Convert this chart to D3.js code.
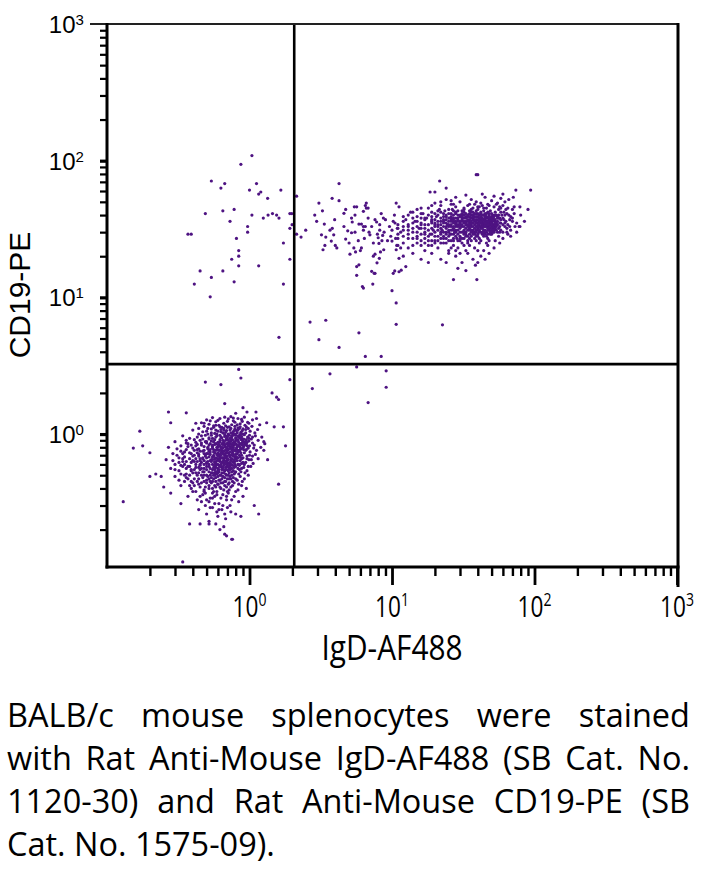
<!DOCTYPE html>
<html><head><meta charset="utf-8">
<script src="https://cdn.jsdelivr.net/npm/d3@7"></script>
<style>body{margin:0;background:#fff}svg{display:block}</style>
</head><body>
<svg id="c" width="703" height="869"></svg>
<script>
// ---------- data ----------
const xDomain = [0.1, 1000];
const yDomain = [0.1065, 1000];
const majorExponents = [0, 1, 2, 3];
const gateX = 2.06;
const gateY = 3.25;
const xTitle = "IgD-AF488";
const yTitle = "CD19-PE";
const captionLines = [
  "BALB/c mouse splenocytes were stained",
  "with Rat Anti-Mouse IgD-AF488 (SB Cat. No.",
  "1120-30) and Rat Anti-Mouse CD19-PE (SB",
  "Cat. No. 1575-09)."
];

// IgD- CD19- population (lower left)
const lowerLeftCells = [
[0.55,1.32],[0.62,1.3],[0.67,1.33],[0.71,1.29],[0.77,1.31],[0.83,1.3],[0.88,1.28],[0.5,1.27],[0.74,1.34],[0.92,1.33],[0.6,1.26],[0.97,1.22],[0.8,1.42],[0.36,1.43],[0.42,1.2],[1.05,1.27],[1.12,1.3],
[0.46,1.21],[0.52,1.18],[0.58,1.23],[0.61,1.16],[0.66,1.2],[0.7,1.24],[0.75,1.17],[0.79,1.22],[0.86,1.19],[0.93,1.16],[0.99,1.2],[1.04,1.14],[0.64,1.12],[0.72,1.13],[0.83,1.11],[0.56,1.12],[0.89,1.24],[0.48,1.14],[1.18,1.17],[0.77,1.25],
[0.4,1.07],[0.47,1.04],[0.54,1.09],[0.6,1.05],[0.63,1.08],[0.68,1.03],[0.73,1.07],[0.76,1.01],[0.81,1.06],[0.87,1.03],[0.94,1.08],[1.01,1.05],[1.09,1.02],[0.57,1.01],[0.79,1.09],[0.85,1.1],[0.66,1.1],[0.71,1.0],[0.9,1.0],[0.51,1.0],[0.98,1.1],[1.14,1.08],[0.44,1.1],
[0.34,0.97],[0.43,0.95],[0.49,0.98],[0.55,0.93],[0.59,0.97],[0.64,0.94],[0.67,0.99],[0.7,0.95],[0.74,0.92],[0.77,0.98],[0.8,0.94],[0.84,0.97],[0.88,0.93],[0.92,0.99],[0.97,0.95],[1.03,0.92],[1.1,0.97],[0.62,0.91],[0.72,0.98],[0.82,0.91],[0.52,0.92],[0.86,0.99],[0.95,0.91],[1.22,0.95],[0.38,0.93],
[0.3,0.88],[0.37,0.85],[0.45,0.9],[0.5,0.86],[0.54,0.89],[0.58,0.85],[0.62,0.88],[0.65,0.84],[0.68,0.9],[0.71,0.86],[0.74,0.89],[0.76,0.84],[0.79,0.87],[0.83,0.9],[0.86,0.85],[0.9,0.88],[0.94,0.84],[0.99,0.89],[1.05,0.86],[1.15,0.9],[0.57,0.91],[0.66,0.87],[0.73,0.85],[0.81,0.84],[0.88,0.91],[0.6,0.83],[0.42,0.87],[0.96,0.87],[0.7,0.91],[1.28,0.85],
[0.27,0.8],[0.33,0.82],[0.4,0.79],[0.46,0.83],[0.51,0.78],[0.55,0.81],[0.59,0.77],[0.62,0.82],[0.65,0.79],[0.67,0.83],[0.7,0.78],[0.73,0.81],[0.75,0.77],[0.78,0.83],[0.81,0.79],[0.84,0.82],[0.87,0.78],[0.91,0.81],[0.95,0.77],[1.0,0.82],[1.07,0.79],[1.2,0.8],[0.57,0.84],[0.64,0.76],[0.69,0.8],[0.77,0.8],[0.83,0.76],[0.89,0.83],[0.48,0.76],[0.72,0.84],[0.6,0.8],[0.98,0.79],[0.36,0.77],
[0.29,0.72],[0.35,0.74],[0.41,0.7],[0.45,0.75],[0.49,0.71],[0.53,0.74],[0.56,0.69],[0.6,0.73],[0.63,0.7],[0.66,0.75],[0.68,0.69],[0.71,0.73],[0.74,0.7],[0.76,0.74],[0.79,0.68],[0.82,0.72],[0.85,0.75],[0.88,0.7],[0.92,0.73],[0.96,0.69],[1.01,0.74],[1.1,0.71],[0.58,0.76],[0.65,0.72],[0.7,0.76],[0.73,0.68],[0.8,0.75],[0.86,0.68],[0.52,0.68],[0.62,0.67],[0.77,0.71],[0.94,0.76],[0.43,0.73],[1.05,0.69],
[0.26,0.65],[0.32,0.62],[0.38,0.66],[0.43,0.63],[0.47,0.67],[0.5,0.61],[0.54,0.65],[0.57,0.62],[0.6,0.66],[0.63,0.6],[0.66,0.64],[0.68,0.67],[0.71,0.61],[0.74,0.65],[0.77,0.62],[0.8,0.66],[0.83,0.6],[0.86,0.64],[0.9,0.67],[0.94,0.62],[0.99,0.65],[1.06,0.61],[0.55,0.68],[0.62,0.63],[0.69,0.64],[0.73,0.6],[0.79,0.63],[0.45,0.6],[0.58,0.6],[0.88,0.61],[0.65,0.67],[0.35,0.6],[1.15,0.66],
[0.28,0.56],[0.34,0.58],[0.39,0.54],[0.44,0.57],[0.48,0.53],[0.52,0.58],[0.55,0.55],[0.58,0.59],[0.61,0.53],[0.64,0.57],[0.67,0.54],[0.7,0.58],[0.73,0.55],[0.76,0.59],[0.79,0.52],[0.83,0.56],[0.87,0.53],[0.91,0.57],[0.96,0.54],[1.02,0.58],[0.5,0.55],[0.6,0.56],[0.66,0.59],[0.72,0.52],[0.8,0.58],[0.42,0.52],[0.57,0.52],[0.85,0.59],
[0.3,0.49],[0.36,0.51],[0.41,0.47],[0.46,0.5],[0.5,0.46],[0.53,0.5],[0.56,0.47],[0.59,0.51],[0.62,0.46],[0.65,0.49],[0.68,0.45],[0.71,0.5],[0.74,0.47],[0.78,0.51],[0.82,0.46],[0.86,0.49],[0.92,0.47],[0.55,0.52],[0.64,0.52],[0.7,0.47],[0.48,0.45],[0.76,0.45],[0.39,0.45],[0.98,0.5],
[0.33,0.42],[0.39,0.4],[0.44,0.43],[0.48,0.39],[0.52,0.42],[0.56,0.38],[0.6,0.43],[0.63,0.4],[0.67,0.42],[0.7,0.38],[0.74,0.41],[0.78,0.44],[0.83,0.39],[0.88,0.42],[0.58,0.45],[0.65,0.44],[0.5,0.44],[0.72,0.44],[0.95,0.4],[0.42,0.38],
[0.37,0.35],[0.43,0.33],[0.47,0.36],[0.52,0.32],[0.57,0.35],[0.61,0.31],[0.65,0.36],[0.69,0.33],[0.73,0.3],[0.78,0.35],[0.84,0.32],[0.55,0.37],[0.63,0.34],[0.71,0.37],[0.49,0.3],[0.9,0.35],[0.46,0.32],
[0.44,0.28],[0.5,0.26],[0.55,0.29],[0.6,0.25],[0.64,0.28],[0.68,0.24],[0.74,0.27],[0.58,0.22],[0.7,0.29],[0.8,0.26],[0.52,0.23],
[0.62,0.2],[0.69,0.18],[0.76,0.17],[0.66,0.21],
[0.69,0.93],[0.75,0.95],[0.81,0.9],[0.85,0.94],[0.78,0.88],[0.72,0.87],[0.66,0.86],[0.84,0.87],[0.8,0.98],[0.7,0.97],[0.88,0.96],[0.76,0.91],[0.73,0.93],[0.63,0.95],[0.67,0.81],[0.71,0.83],[0.75,0.82],[0.79,0.85],[0.82,0.81],[0.86,0.8],[0.89,0.86],[0.64,0.85],[0.6,0.87],[0.77,0.78],[0.74,0.79],[0.68,0.77],[0.83,0.74],[0.8,0.71],[0.76,0.72],[0.72,0.71],[0.69,0.74],[0.64,0.74],[0.61,0.71],[0.67,0.7],[0.78,0.76],[0.86,0.77],[0.9,0.79],[0.92,0.84],[0.85,0.7],[0.81,0.68],[0.75,0.66],[0.71,0.65],[0.66,0.66],[0.62,0.69],[0.59,0.64],[0.64,0.62],[0.7,0.62],[0.76,0.63],[0.82,0.64],[0.88,0.66],[0.73,0.58],[0.68,0.57],[0.63,0.58],[0.58,0.57],[0.78,0.57],[0.84,0.6],[0.66,0.52],[0.61,0.55],[0.71,0.54],[0.75,0.53],[0.69,0.6],[0.57,0.63],[0.53,0.71],[0.56,0.77],[0.59,0.8],[0.61,0.76],[0.55,0.83],[0.63,0.79],[0.93,0.88],[0.96,0.82],[0.91,0.92],[0.87,1.0],[0.82,1.02],[0.77,1.04],[0.74,1.1],[0.69,1.06],[0.65,1.02],[0.62,0.98],[0.58,0.95],[0.83,1.07],[0.89,1.06],[0.79,1.14],[0.68,1.15],[0.94,1.02],[0.53,0.85],[0.51,0.8],[0.5,0.72],[0.48,0.64],[0.52,0.6],[0.54,0.52],[0.6,0.49],[0.67,0.48],[0.73,0.49],[0.63,0.44],[0.57,0.42],[0.69,0.41],[0.8,0.53],[0.77,0.48],[0.85,0.55],[0.9,0.62],
[0.36,0.9],[0.39,0.83],[0.41,0.76],[0.44,0.69],[0.46,0.62],[0.38,0.58],[0.41,0.55],[0.44,0.52],[0.47,0.48],[0.4,0.44],[0.45,0.41],[0.49,0.37],[0.53,0.34],[0.57,0.31],[0.61,0.28],[0.65,0.3],[0.69,0.35],[0.72,0.39],[0.76,0.42],[0.8,0.47],[0.84,0.51],[0.88,0.56],[0.92,0.6],[0.96,0.66],[1.0,0.7],[0.55,0.4],[0.59,0.38],[0.62,0.41],[0.66,0.39],[0.52,0.47],[0.56,0.5],[0.6,0.52],[0.64,0.55],[0.68,0.51],[0.72,0.56],[0.48,0.56],[0.51,0.63],[0.55,0.6],[0.58,0.67],[0.62,0.65],[0.66,0.61],[0.7,0.69],[0.45,0.66],[0.49,0.69],[0.53,0.77],[0.57,0.73],[0.61,0.84],[0.65,0.9],[0.69,0.85],[0.56,0.88],[0.52,0.94],[0.48,0.81],[0.44,0.78],[0.47,0.92],[0.5,1.05],[0.54,1.02],[0.58,1.07],[0.62,1.13],[0.66,1.07],[0.7,1.12],[0.74,1.02],[0.78,1.06],[0.82,1.17],[0.86,1.13],[0.9,1.09],[0.95,1.13],[1.0,0.98],[1.05,0.95],[1.08,0.83],[1.12,0.76],[1.03,0.65],[0.98,0.58],[0.93,0.52],[0.89,0.45],[0.84,0.43],[0.8,0.38],[0.75,0.33],[0.67,0.26],[0.59,0.27],[0.53,0.29],[0.34,0.66],[0.31,0.7],[0.32,0.54],[0.35,0.5],[0.37,0.47],[0.42,0.6],[0.4,0.64],[0.46,0.56],[0.5,0.5],[0.54,0.44],[0.58,0.48],[0.63,0.5],[0.67,0.45],[0.71,0.43],[0.75,0.5],[0.79,0.6],[0.83,0.67],[0.87,0.73],[0.91,0.77],[0.95,0.85],[0.99,0.93],[0.6,0.6],[0.64,0.67],[0.68,0.72],[0.72,0.78],[0.76,0.86],[0.8,0.92],[0.56,0.7],[0.52,0.75],[0.48,0.72],[0.57,0.55],[0.61,0.59],[0.65,0.57],[0.69,0.55],[0.73,0.62],[0.77,0.69],[0.81,0.77],[0.85,0.83],[0.89,0.9],[0.5,0.88],[0.54,0.98],[0.59,1.0],[0.63,1.04],[0.67,0.96],[0.71,0.9],[0.75,0.97],[0.79,1.0],[0.83,0.96],[0.87,0.92],[0.43,0.84],[0.39,0.72],[0.36,0.63],[0.33,0.75],
[0.3,0.6],[0.32,0.67],[0.33,0.51],[0.34,0.72],[0.35,0.45],[0.36,0.56],[0.37,0.81],[0.38,0.5],[0.39,0.62],[0.4,0.69],[0.41,0.42],[0.42,0.57],[0.43,0.77],[0.44,0.47],[0.45,0.64],[0.46,0.86],[0.47,0.53],[0.48,0.6],[0.49,0.41],[0.5,0.67],[0.51,0.49],[0.52,0.83],[0.53,0.56],[0.54,0.63],[0.55,0.45],[0.56,0.74],[0.57,0.5],[0.58,0.62],[0.59,0.36],[0.6,0.69],[0.61,0.46],[0.62,0.58],
[0.31,0.78],[0.33,0.59],[0.35,0.68],[0.36,0.48],[0.38,0.73],[0.39,0.55],[0.4,0.38],[0.41,0.63],[0.42,0.82],[0.43,0.5],[0.44,0.71],[0.45,0.55],[0.46,0.44],[0.47,0.75],[0.48,0.5],[0.49,0.88],[0.5,0.58],[0.51,0.72],[0.52,0.4],[0.53,0.64],[0.54,0.48],[0.55,0.79],[0.56,0.57],[0.57,0.66],[0.58,0.41],[0.59,0.71],[0.6,0.54],[0.61,0.64],[0.62,0.5],
[0.29,0.64],[0.3,0.55],[0.32,0.46],[0.34,0.63],[0.37,0.58],[0.38,0.42],[0.4,0.52],[0.42,0.66],[0.43,0.45],[0.45,0.59],[0.47,0.66],[0.48,0.38],[0.5,0.62],[0.52,0.53],[0.53,0.45],[0.55,0.65],[0.57,0.59],[0.58,0.53],[0.6,0.43],[0.45,0.35],[0.5,0.33],[0.55,0.34],[0.41,0.91],[0.46,0.97],[0.51,1.1],[0.56,1.15],[0.36,0.86],[0.44,1.0],[0.48,1.2],[0.53,1.25],[0.58,1.16],
[0.63,0.73],[0.64,0.47],[0.65,0.63],[0.66,0.55],[0.67,0.68],[0.68,0.62],[0.69,0.5],[0.7,0.66],[0.71,0.58],[0.72,0.47],[0.74,0.6],[0.75,0.56],[0.77,0.54],[0.78,0.65],[0.62,0.76],[0.64,0.8],[0.66,0.72],[0.7,0.81],[0.73,0.74]
];

// IgD+ CD19+ population (upper right)
const upperRightCells = [
[30,50],[36,52],[42,49],[45,54],[27,48],[50,51],[55,49],[33,56],[39,50],[24,52],[47,48],[58,53],[62,50],[20,49],[43,57],[52,55],[35,48],[28,54],[60,57],[66,52],
[18,45],[22,47],[25,44],[28,46],[31,43],[34,47],[37,45],[40,44],[43,47],[46,45],[49,43],[52,46],[56,44],[60,47],[65,45],[15,44],[26,48],[32,45],[38,48],[44,43],[48,47],[54,48],[70,44],[35,43],[41,46],[29,43],[57,46],[21,43],
[13,40],[16,41],[19,39],[22,42],[24,40],[26,38],[28,41],[30,39],[32,42],[34,40],[36,38],[38,41],[40,39],[42,42],[44,40],[46,38],[48,41],[50,39],[53,42],[56,40],[60,38],[64,41],[68,39],[27,43],[31,40],[35,41],[39,43],[43,38],[47,42],[51,40],[55,38],[33,39],[37,42],[41,40],[45,41],[49,38],[29,38],[23,39],[58,42],[62,40],[72,41],[20,41],[17,38],
[12,36],[14,35],[17,37],[20,34],[22,36],[24,35],[26,37],[28,34],[30,36],[32,35],[34,37],[36,34],[38,36],[40,35],[42,37],[44,34],[46,36],[48,35],[50,37],[52,34],[55,36],[58,35],[61,37],[65,34],[70,36],[75,35],[25,34],[29,37],[33,34],[37,38],[41,34],[45,37],[49,34],[53,37],[57,38],[31,38],[35,35],[39,37],[43,36],[47,38],[27,36],[23,37],[19,36],[16,34],[62,35],[67,37],[54,35],[51,36],
[11,32],[13,31],[15,33],[17,30],[19,32],[21,31],[23,33],[25,30],[27,32],[29,31],[31,33],[33,30],[35,32],[37,31],[39,33],[41,30],[43,32],[45,31],[47,33],[49,30],[51,32],[54,31],[57,33],[60,30],[64,32],[68,31],[73,33],[26,34],[30,30],[34,33],[38,30],[42,33],[46,30],[50,33],[24,32],[28,33],[32,31],[36,33],[40,32],[44,33],[48,31],[52,30],[56,32],[20,33],[18,31],[22,30],[14,32],[62,33],
[12,28],[14,27],[16,29],[18,26],[20,28],[22,27],[24,29],[26,26],[28,28],[30,27],[32,29],[34,26],[36,28],[38,27],[40,29],[42,26],[44,28],[47,27],[50,29],[53,26],[56,28],[60,27],[65,29],[25,28],[29,26],[33,28],[37,29],[41,27],[45,29],[19,29],[21,26],[23,28],[27,29],[31,27],[35,29],[39,26],[43,30],[48,26],[15,30],[17,27],[13,29],
[11,24],[13,23],[15,25],[17,22],[19,24],[21,23],[23,25],[25,22],[27,24],[29,23],[31,25],[33,22],[35,24],[38,23],[41,25],[44,22],[47,24],[52,23],[57,25],[20,26],[24,25],[28,22],[32,24],[36,26],[40,22],[46,25],[16,24],[26,23],[30,26],[34,25],
[12,20],[14,21],[16,19],[19,21],[22,19],[25,21],[28,20],[31,18],[34,21],[37,19],[42,20],[48,21],[18,18],[24,18],[30,21],[40,18],[45,19],
[26,31],[27,35],[28,38],[29,33],[30,35],[31,37],[32,33],[33,36],[34,39],[35,31],[36,35],[37,33],[38,39],[39,35],[40,37],[41,33],[42,39],[43,35],[44,37],[45,33],[46,39],[47,35],[48,37],[49,32],[50,35],[51,38],[52,33],[53,36],[30,32],[32,38],[34,34],[36,31],[38,34],[40,31],[42,35],[44,31],[46,34],[48,33],[50,31],[27,33],[29,36],[31,34],[33,32],[35,37],[37,35],[39,31],[41,36],[43,34],[45,36],[47,31],[49,36],[51,34],[25,33],[28,31],[31,30],[34,28],[37,30],[40,28],[43,29],[46,28],[49,29],[36,40],[39,41],[42,41],[45,40],[48,40],[33,41],[30,40],[27,40],[24,37],[22,34],[52,39],[55,34],[58,37],[54,40],[35,36],[38,32],[41,38],[44,35],[47,32],[32,36],[29,34],[26,36],[50,36],[53,32],[39,39],[42,32],[45,38],[36,42],[40,34],
[80,40],[75,30],[85,36],[68,28],[72,46],[90,44],
[5.2,38],[5.5,30],[5.8,26],[6.0,22],[6.4,27],[6.9,30],[7.2,33],[7.4,25],[7.9,29],[8.2,34],[8.8,30],[9.3,26],[9.6,33],[9.8,28],[10.2,36],[10.6,27],[10.9,32],[11.5,23],[5.0,25],[4.6,33],
[14,38],[15,36],[16,32],[17,34],[18,28],[18,40],[19,35],[20,30],[20,37],[21,34],[21,40],[22,29],[22,32],[23,35],[23,41],[24,27],[24,33],[25,38],[25,31],[26,29],[26,41],[27,27],[27,38],[28,36],[28,30],[29,40],[30,28],[30,33],[31,36],[32,27],[32,40],[33,38],[34,31],[35,27],[35,39],[36,36],[37,40],[38,29],[39,28],[40,41],[41,37],[42,30],[43,40],[44,29],[45,34],[46,41],[47,29],[48,39],[49,35],[50,41],[51,30],[52,37],[53,40],[54,33],[55,30],[56,38],[57,35],[58,31],[59,40],[60,34],[61,42],[63,36],[64,30],[66,40],[13,34],[15,28],[16,38],[17,25],[19,26],[21,36],[23,30],[25,36],[27,31],[29,29],[31,41],[33,35],[35,34],[37,37],[39,36],[41,31],[43,37],[45,35],[47,36],[49,37],[51,33],[53,34],[55,39],[57,30],[12,33],[11,29],[10.5,35],[12,39],[14,42],[16,45],[19,47],[22,50],[26,51],[58,45],[63,44],[67,33],[70,38],
[11,27],[11,34],[11.5,30],[12,25],[12,31],[12.5,37],[13,27],[13,33],[13.5,42],[14,24],[14,30],[14.5,36],[15,27],[15,39],[15.5,32],[16,26],[16,35],[16.5,41],[17,29],[17,32],[17.5,38],[18,24],[18,34],[18.5,29],[19,37],[19,42],[19.5,31],[20,25],[20,35],[20.5,39],[21,28],[21,33],[21.5,44],[22,25],[22,38],[22.5,31],[23,27],[23,36],[23.5,43],[24,30],[24,39],[24.5,34],[25,26],[25,41],[25.5,29],[26,33],[26,39],[26.5,44],[27,26],[27,37],[27.5,30],[28,35],[28,42],[28.5,27],
[30,34],[32,30],[34,36],[36,30],[38,37],[40,33],[42,36],[44,30],[46,33],[48,38],[50,34],[52,31],[31,39],[33,29],[35,33],[37,39],[39,30],[41,35],[43,33],[45,39],[47,34],[49,30],[51,37],[53,35],[36,44],[40,46],[44,45],[32,44]
];

// sparse events
const scatterCells = [
[1.04,109],[0.87,94],[0.54,71],[0.67,68],[0.63,63],[1.12,68],[1.0,61],[1.2,59],[1.16,57],[1.66,61],[1.34,53],[0.49,41],[0.65,43],[0.78,44],[1.04,40],[1.25,38],[1.35,40],[1.45,41],[1.55,40],[1.61,38],[1.92,41],[1.98,41],[0.73,36],[0.97,33],[0.97,30],[1.99,34],[1.92,32],[0.37,29],[0.39,29],[0.81,27],[1.73,25],[0.84,22],[0.84,20],[0.75,19],[1.92,19],[0.84,17],[1.16,17],[0.45,15.6],[0.65,15.6],[0.54,14],[0.78,13],[0.41,12.5],[1.73,12.5],[0.53,10.1],[1.61,5.1],
[2.14,55],[2.14,29],[2.3,27.6],[2.48,31],[3.07,49],[3.8,53],[4.25,68],[4.25,51],[2.87,40],[2.96,36],[3.25,43],[3.35,34.4],[3.67,31],[3.81,32],[3.2,28.7],[3.43,27.6],[3.96,37],[3.9,28.7],[3.75,25.8],[3.38,24],[3.28,22.3],[4.0,24],[4.1,23],[4.73,44],[4.6,41.2],[5.44,46],[5.5,40],[5.26,35.6],[4.89,30.7],[5.2,29.7],[4.73,26.7],[5.4,23],[5.55,21.5],[5.07,20.7],[6.1,23],[5.86,34.4],[6.1,34.4],[6.3,33],[6.3,31],[6.8,38],[6.5,33],[6.5,47],[6.6,45],[6.8,45],[6.3,42.6],[7.0,28.7],[7.6,37],[7.8,35.6],[8.4,41],[8.7,38],[9.0,37],[8.2,31],[8.6,28.4],[8.0,27.3],[10,31],[10.4,40],[10.7,49],[11.2,46],[10,25.8],[8.5,26],[8.1,24.8],[8.75,22.3],[8.3,21.5],[7.6,20.7],[7.4,20],[8.15,19.3],[7.85,17.9],[10.7,22.3],[10.8,24],[11.2,19.3],[5.86,17.3],[5.65,16.8],[5.65,14.5],[7.6,15],[10.45,15.6],[10.2,15],[7.33,12.5],[6.3,11.7],[10,11.2],[10.7,9.1],[10.7,6.35],[5.86,5.5],[3.43,6.8],[2.66,6.6],[3.07,4.9],[4.25,4.3],[6.5,3.7],[8.4,3.7],[22.6,6.3],[9.1,2.2],[9.1,2.9],[6.8,1.7],[5.65,3.1],
[0.84,2.97],[0.87,2.57],[1.92,2.5],[3.67,2.76],[2.76,2.15],[0.49,2.4],[0.63,2.3],[1.44,2.0],[1.55,1.86],[1.6,1.79],[0.67,1.67],[0.9,1.56],[1.32,1.21],[1.73,1.13],[1.49,1.13],[1.79,0.82],[1.6,0.43],[0.13,0.32],[0.34,0.116],[0.17,1.05],[0.153,0.79],[0.178,0.82],
[39,79],[40,79],[21.6,71],[24,63],[94,61],[74,61],[18.5,59],[20,59],[71,54],[79,46],[78,33],[79,33],[6.6,49],[5.65,46],[6.2,12],[27,13.5],[39.4,13.5],[29,16.3],[33,15.7],[38.5,17.2],[12.5,16.8],[11.2,15.4],[11.6,15.8],[7.5,15],[7.2,15.5],
[0.27,1.45],[0.96,1.45],[1.11,1.45],[0.28,1.21],[0.2,0.73],[0.22,0.51],[0.2,0.49],[0.24,0.49],[0.25,0.41],[0.28,0.37],[1.26,0.88],[1.26,0.76],[1.34,0.65],[1.16,0.26],[1.08,0.3],[0.87,0.25],[0.75,0.17],[0.67,0.185],[0.52,0.22],[0.33,0.31],[0.38,0.22],[0.45,0.22]
];

// ---------- drawing ----------
const svg = d3.select("#c");
const L = 107, R = 677, T = 24, B = 567;
const x = d3.scaleLog().domain(xDomain).range([L, R]);
const y = d3.scaleLog().domain(yDomain).range([B, T]);
const isMajor = v => Math.abs(Math.log10(v) - Math.round(Math.log10(v))) < 1e-9;
const dotColor = "#4e1382";

// dots
const allCells = lowerLeftCells.concat(upperRightCells, scatterCells);
svg.append("g").selectAll("circle").data(allCells).join("circle")
  .attr("cx", d => x(d[0])).attr("cy", d => y(d[1])).attr("r", 1.6)
  .attr("fill", dotColor);

// quadrant gates
svg.append("line").attr("x1", x(gateX)).attr("x2", x(gateX)).attr("y1", T).attr("y2", B)
  .attr("stroke", "#000").attr("stroke-width", 2.6);
svg.append("line").attr("x1", L).attr("x2", R).attr("y1", y(gateY)).attr("y2", y(gateY))
  .attr("stroke", "#000").attr("stroke-width", 2.6);

// axes ticks
const xTicks = x.ticks().filter(v => v > xDomain[0]);
const yTicks = y.ticks().filter(v => v > yDomain[0]);
const xMinorAxis = d3.axisBottom(x).tickValues(xTicks.filter(v => !isMajor(v))).tickSize(9).tickFormat("");
const xMajorAxis = d3.axisBottom(x).tickValues(xTicks.filter(v => isMajor(v))).tickSize(18).tickFormat("");
const yMinorAxis = d3.axisLeft(y).tickValues(yTicks.filter(v => !isMajor(v))).tickSize(7).tickFormat("");
const yMajorAxis = d3.axisLeft(y).tickValues(yTicks.filter(v => isMajor(v) && v < 1000)).tickSize(7).tickFormat("");
function styleAxis(g, w) {
  g.select(".domain").remove();
  g.selectAll(".tick line").attr("stroke", "#000").attr("stroke-width", w);
}
svg.append("g").attr("transform", `translate(0,${B})`).call(xMinorAxis).call(g => styleAxis(g, 2.4));
svg.append("g").attr("transform", `translate(0,${B})`).call(xMajorAxis).call(g => styleAxis(g, 2.8));
svg.append("g").attr("transform", `translate(${L},0)`).call(yMinorAxis).call(g => styleAxis(g, 2.2));
svg.append("g").attr("transform", `translate(${L},0)`).call(yMajorAxis).call(g => styleAxis(g, 3.2));

// frame
svg.append("line").attr("x1", L - 17).attr("x2", R + 2).attr("y1", T).attr("y2", T).attr("stroke", "#222").attr("stroke-width", 2);
svg.append("line").attr("x1", R + 1).attr("x2", R + 1).attr("y1", T - 1).attr("y2", B + 20).attr("stroke", "#000").attr("stroke-width", 3);
svg.append("line").attr("x1", L).attr("x2", L).attr("y1", T - 1).attr("y2", B + 1.5).attr("stroke", "#000").attr("stroke-width", 3);
svg.append("line").attr("x1", L - 1.5).attr("x2", R + 2.5).attr("y1", B).attr("y2", B).attr("stroke", "#000").attr("stroke-width", 3);

// y tick labels
const yLab = svg.append("g").attr("font-family", "Liberation Sans, Arial, sans-serif").attr("fill", "#000");
majorExponents.forEach(e => {
  const ty = y(Math.pow(10, e));
  yLab.append("text").attr("x", 75.5).attr("y", ty + 9).attr("text-anchor", "end").attr("font-size", 24).text("10");
  yLab.append("text").attr("x", 75.5).attr("y", ty + 1).attr("font-size", 15).text(String(e));
});

// condensed text helper
const condFont = "Open Sans, sans-serif";
function fitText(g, str, size, tx, ty, anchor, targetW) {
  const t = g.append("text").attr("font-family", condFont).attr("font-size", size)
    .attr("text-anchor", anchor).attr("fill", "#000").text(str);
  const sx = targetW / t.node().getComputedTextLength();
  t.attr("transform", `translate(${tx},${ty}) scale(${sx},1)`);
  return t;
}

// x tick labels
const xLab = svg.append("g");
majorExponents.forEach(e => {
  const tx = x(Math.pow(10, e));
  const t = xLab.append("text").attr("font-family", condFont).attr("fill", "#000")
    .attr("text-anchor", "middle").attr("transform", `translate(${tx},617) scale(0.78,1)`);
  t.append("tspan").attr("font-size", 29).text("10");
  t.append("tspan").attr("font-size", 18).attr("dy", -11).text(String(e));
});

// axis titles
fitText(svg, xTitle, 34, 392, 660, "middle", 141);
svg.append("text").attr("font-family", "Liberation Sans, Arial, sans-serif").attr("font-size", 30)
  .attr("text-anchor", "middle").attr("fill", "#000")
  .attr("transform", "translate(30,295) rotate(-90)").text(yTitle);

// caption (justified)
const cap = svg.append("g");
const capLeft = 7, capRight = 690, capSize = 33;
const capBase = [727, 770, 813, 856];
function measure(str) {
  const t = cap.append("text").attr("font-family", condFont).attr("font-size", capSize).text(str);
  const w = t.node().getComputedTextLength(); t.remove(); return w;
}
const capSX = 268 / measure(captionLines[captionLines.length - 1]);
captionLines.forEach((line, i) => {
  const words = line.split(" ");
  const drawWord = (w, px) => cap.append("text").attr("font-family", condFont).attr("font-size", capSize)
    .attr("fill", "#000").attr("transform", `translate(${px},${capBase[i]}) scale(${capSX},1)`).text(w);
  if (i === captionLines.length - 1) { drawWord(line, capLeft); return; }
  const widths = words.map(w => measure(w) * capSX);
  const gap = (capRight - capLeft - d3.sum(widths)) / (words.length - 1);
  let px = capLeft;
  words.forEach((w, k) => { drawWord(w, px); px += widths[k] + gap; });
});
</script>
</body></html>
